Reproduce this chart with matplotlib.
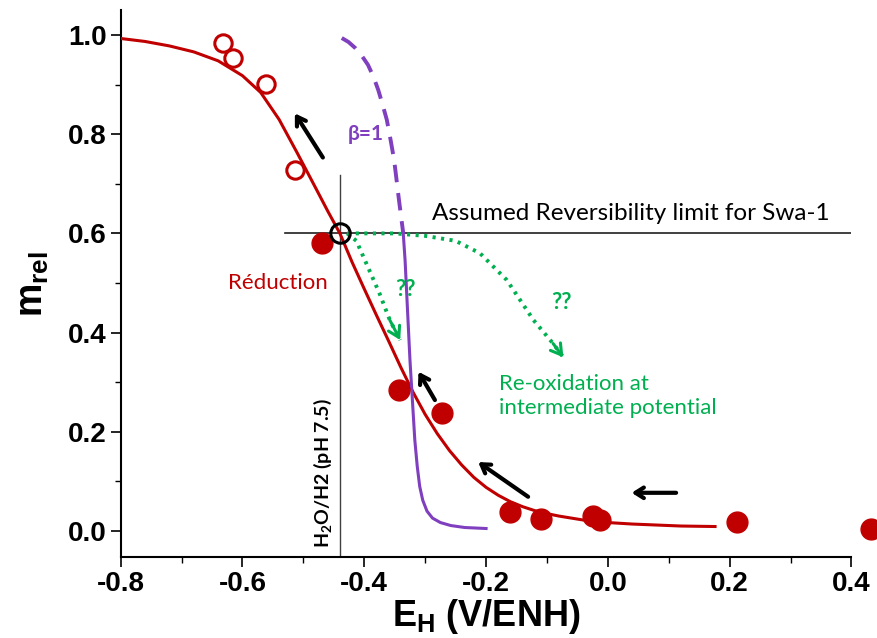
import matplotlib
matplotlib.use('Agg')
import matplotlib.pyplot as plt
from matplotlib.ticker import MultipleLocator

# ---- data ----
fit_x = [-0.80, -0.76, -0.72, -0.68, -0.64, -0.60, -0.57, -0.54, -0.51, -0.48, -0.46,
         -0.44, -0.42, -0.40, -0.38, -0.36, -0.34, -0.32, -0.30, -0.28, -0.26, -0.24,
         -0.22, -0.20, -0.18, -0.16, -0.14, -0.12, -0.10, -0.08, -0.06, -0.04, -0.02,
         0.00, 0.04, 0.08, 0.12, 0.176]
fit_y = [0.993, 0.987, 0.978, 0.966, 0.948, 0.918, 0.884, 0.830, 0.762, 0.692, 0.645,
         0.600, 0.542, 0.488, 0.435, 0.383, 0.330, 0.280, 0.235, 0.196, 0.162, 0.133,
         0.108, 0.088, 0.072, 0.059, 0.049, 0.041, 0.035, 0.030, 0.026, 0.022, 0.019,
         0.017, 0.014, 0.012, 0.010, 0.009]

open_x = [-0.632, -0.615, -0.562, -0.514]
open_y = [0.984, 0.953, 0.901, 0.728]

filled_x = [-0.470, -0.343, -0.273, -0.160, -0.110, -0.024, -0.013, 0.212, 0.432]
filled_y = [0.581, 0.284, 0.237, 0.038, 0.024, 0.031, 0.022, 0.019, 0.003]

beta_dash_x = [-0.437, -0.426, -0.415, -0.404, -0.394, -0.385, -0.377, -0.370, -0.363,
               -0.357, -0.351, -0.347, -0.343, -0.336]
beta_dash_y = [0.994, 0.986, 0.974, 0.958, 0.940, 0.916, 0.889, 0.860, 0.829,
               0.790, 0.748, 0.708, 0.667, 0.600]
beta_solid_x = [-0.336, -0.333, -0.325, -0.317, -0.313, -0.309, -0.304, -0.297, -0.288,
                -0.275, -0.258, -0.235, -0.200]
beta_solid_y = [0.600, 0.546, 0.345, 0.183, 0.130, 0.090, 0.062, 0.040, 0.026,
                0.017, 0.011, 0.007, 0.005]

green1_x = [-0.428, -0.413, -0.399, -0.375, -0.358, -0.341]
green1_y = [0.600, 0.585, 0.546, 0.479, 0.425, 0.385]
green2_x = [-0.428, -0.350, -0.300, -0.250, -0.210, -0.166, -0.122, -0.090, -0.073]
green2_y = [0.600, 0.600, 0.595, 0.585, 0.560, 0.506, 0.425, 0.378, 0.350]

E_h2 = -0.44
m_limit = 0.6

xticks = [-0.8, -0.6, -0.4, -0.2, 0.0, 0.2, 0.4]
xticklabels = ['-0.8', '-0.6', '-0.4', '-0.2', '0.0', '0.2', '0.4']
yticks = [0.0, 0.2, 0.4, 0.6, 0.8, 1.0]
yticklabels = ['0.0', '0.2', '0.4', '0.6', '0.8', '1.0']

# black arrows (tail -> head)
arrows = [((-0.468, 0.753), (-0.514, 0.842)),
          ((-0.284, 0.264), (-0.311, 0.321)),
          ((-0.131, 0.069), (-0.213, 0.139)),
          ((0.112, 0.077), (0.039, 0.077))]

RED = '#C00000'
PURPLE = '#7F3FBF'
GREEN = '#00B050'
body_font = ['Lato', 'DejaVu Sans']
tick_font = ['Liberation Sans', 'DejaVu Sans']

fig = plt.figure(figsize=(8.77, 6.38), dpi=100)
ax = fig.add_axes([0.1376, 0.127, 0.8333, 0.8573])
ax.set_xlim(-0.8, 0.4)
ax.set_ylim(-0.0524, 1.0504)

for s in ['top', 'right']:
    ax.spines[s].set_visible(False)
for s in ['left', 'bottom']:
    ax.spines[s].set_linewidth(1.5)

ax.set_xticks(xticks)
ax.set_xticklabels(xticklabels, fontfamily=tick_font, fontweight='bold', fontsize=20)
ax.set_yticks(yticks)
ax.set_yticklabels(yticklabels, fontfamily=tick_font, fontweight='bold', fontsize=20)
ax.xaxis.set_minor_locator(MultipleLocator(0.1))
ax.yaxis.set_minor_locator(MultipleLocator(0.1))
ax.tick_params(which='major', direction='out', length=7, width=1.2, pad=3)
ax.tick_params(which='minor', direction='out', length=4, width=1.0)

ax.set_xlabel('E$_\\mathregular{H}$ (V/ENH)', fontfamily=tick_font, fontweight='bold', fontsize=26, labelpad=0)
ax.set_ylabel('m$_\\mathregular{rel}$', fontfamily=tick_font, fontweight='bold', fontsize=27, labelpad=12)

# reference lines
ax.plot([E_h2, E_h2], [-0.0524, 0.718], color='#404040', lw=1.0, zorder=2)
ax.plot([-0.530, 0.40], [m_limit, m_limit], color='#202020', lw=1.2, zorder=2)

# fit curve
ax.plot(fit_x, fit_y, color=RED, lw=2.2, zorder=3)

# beta = 1 curve
ax.plot(beta_dash_x, beta_dash_y, color=PURPLE, lw=2.8, dashes=(4.5, 2.8), zorder=3)
ax.plot(beta_solid_x, beta_solid_y, color=PURPLE, lw=2.2, zorder=3)

# green dotted re-oxidation paths
for gx, gy in [(green1_x, green1_y), (green2_x, green2_y)]:
    ax.plot(gx, gy, color=GREEN, lw=2.8, linestyle=(0, (0.8, 1.4)), zorder=3)
    ax.annotate('', xy=(gx[-1], gy[-1]), xytext=(gx[-2], gy[-2]),
                arrowprops=dict(arrowstyle='->,head_length=0.75,head_width=0.45',
                                color=GREEN, lw=2.2, shrinkA=0, shrinkB=0), zorder=3)

# data points
ax.plot(open_x, open_y, 'o', mfc='white', mec=RED, mew=2.2, ms=12.5, zorder=4)
ax.plot(filled_x, filled_y, 'o', color=RED, ms=15, zorder=4, clip_on=False)
ax.plot([E_h2], [m_limit], 'o', mfc='none', mec='black', mew=2.2, ms=14, zorder=5)

# black arrows
for tail, head in arrows:
    ax.annotate('', xy=head, xytext=tail,
                arrowprops=dict(arrowstyle='->,head_length=0.6,head_width=0.38',
                                color='black', lw=3.0, shrinkA=0, shrinkB=0), zorder=5)

# texts
ax.text(-0.427, 0.80, 'β=1', color=PURPLE, fontweight='bold', fontsize=15,
        fontfamily=body_font, ha='left', va='center')
ax.text(-0.288, 0.640, 'Assumed Reversibility limit for Swa-1', color='black', fontsize=17.5,
        fontfamily=body_font, ha='left', va='center')
ax.text(-0.624, 0.50, 'Réduction', color=RED, fontsize=16, fontfamily=body_font,
        ha='left', va='center')
ax.text(-0.333, 0.486, '??', color=GREEN, fontsize=16, fontweight='bold',
        fontfamily=body_font, ha='center', va='center')
ax.text(-0.076, 0.460, '??', color=GREEN, fontsize=16, fontweight='bold',
        fontfamily=body_font, ha='center', va='center')
ax.text(-0.178, 0.272, 'Re-oxidation at\nintermediate potential', color=GREEN, fontsize=16,
        fontfamily=body_font, ha='left', va='center', linespacing=1.2)
ax.text(-0.469, 0.117, 'H$_\\mathregular{2}$O/H2 (pH 7.5)', color='black', fontsize=14,
        fontweight='bold', fontfamily=body_font, rotation=90, ha='center', va='center')

fig.savefig('out.png', dpi=100)
